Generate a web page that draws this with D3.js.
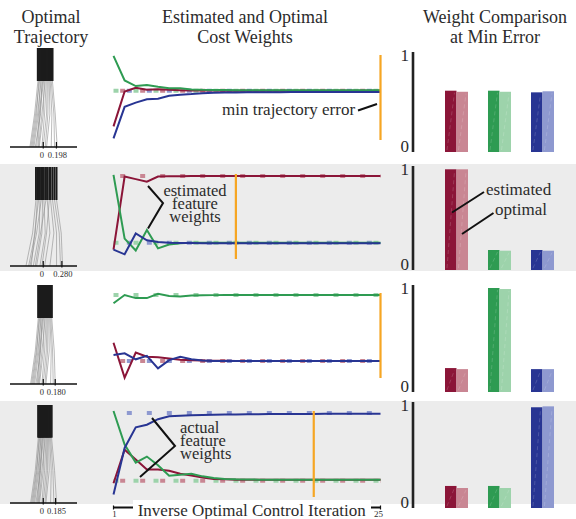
<!DOCTYPE html>
<html>
<head>
<meta charset="utf-8">
<script src="https://cdn.jsdelivr.net/npm/d3@7"></script>
<style>
  body { margin: 0; background: #fff; }
  svg { display: block; }
  text { font-family: "Liberation Serif", "Times New Roman", serif; fill: #2b2b2b; }
</style>
</head>
<body>
<svg id="chart" width="576" height="519"></svg>
<script>
// ---- data ----
var features = ["red", "green", "blue"];
var iterations = d3.range(1, 26);

// estimated weights per IOC iteration (rows 1..4)
var est1Red   = [0.16,0.57,0.615,0.59,0.596,0.59,0.585,0.583,0.582,0.581,0.58,0.58,0.58,0.58,0.58,0.58,0.58,0.58,0.58,0.58,0.58,0.58,0.58,0.58,0.58];
var est1Green = [0.99,0.70,0.635,0.647,0.627,0.61,0.61,0.595,0.59,0.588,0.587,0.586,0.586,0.585,0.585,0.585,0.585,0.585,0.585,0.585,0.585,0.585,0.585,0.585,0.585];
var est1Blue  = [0.02,0.39,0.44,0.48,0.486,0.52,0.533,0.54,0.55,0.555,0.558,0.56,0.561,0.562,0.563,0.563,0.564,0.564,0.564,0.565,0.565,0.565,0.565,0.565,0.565];

var est2Red   = [0.11,0.97,0.94,0.91,0.97,0.975,0.975,0.976,0.976,0.976,0.976,0.976,0.976,0.976,0.976,0.976,0.976,0.976,0.976,0.976,0.976,0.976,0.976,0.976,0.976];
var est2Green = [0.99,0.24,0.10,0.34,0.125,0.17,0.185,0.19,0.19,0.19,0.19,0.19,0.19,0.19,0.19,0.19,0.19,0.19,0.19,0.19,0.19,0.19,0.19,0.19,0.19];
var est2Blue  = [0.11,0.055,0.30,0.22,0.20,0.19,0.188,0.187,0.186,0.186,0.185,0.185,0.185,0.185,0.185,0.185,0.185,0.185,0.185,0.185,0.185,0.185,0.185,0.185,0.185];

var est3Red   = [0.415,0.005,0.30,0.25,0.243,0.23,0.215,0.21,0.205,0.203,0.202,0.201,0.2,0.2,0.2,0.2,0.2,0.2,0.2,0.2,0.2,0.2,0.2,0.2,0.2];
var est3Green = [0.88,0.976,0.94,0.94,0.99,0.965,0.96,0.97,0.974,0.975,0.976,0.976,0.976,0.976,0.976,0.976,0.976,0.976,0.976,0.976,0.976,0.976,0.976,0.976,0.976];
var est3Blue  = [0.27,0.29,0.22,0.26,0.114,0.21,0.25,0.22,0.205,0.2,0.2,0.2,0.2,0.2,0.2,0.2,0.2,0.2,0.2,0.2,0.2,0.2,0.2,0.2,0.2];

var est4Red   = [0.16,0.55,0.435,0.32,0.32,0.306,0.27,0.25,0.227,0.21,0.205,0.202,0.2,0.2,0.2,0.2,0.2,0.2,0.2,0.2,0.2,0.2,0.2,0.2,0.2];
var est4Green = [1.0,0.61,0.40,0.47,0.37,0.247,0.26,0.27,0.24,0.22,0.21,0.205,0.203,0.202,0.2,0.2,0.2,0.2,0.2,0.2,0.2,0.2,0.2,0.2,0.2];
var est4Blue  = [0.03,0.57,0.81,0.84,0.905,0.94,0.945,0.95,0.953,0.956,0.958,0.96,0.962,0.963,0.964,0.965,0.965,0.966,0.966,0.967,0.967,0.967,0.968,0.968,0.968];

// optimal (actual) weights, red/green/blue
var opt1 = [0.578, 0.578, 0.578];
var opt2 = [0.976, 0.19, 0.19];
var opt3 = [0.2, 0.976, 0.2];
var opt4 = [0.19, 0.19, 0.976];

// iteration of min trajectory error
var minIter = [25, 12, 25, 19];

// weight comparison bars at min error
var bar1Est = [0.632, 0.632, 0.615], bar1Opt = [0.621, 0.621, 0.626];
var bar2Est = [0.997, 0.198, 0.198], bar2Opt = [0.997, 0.191, 0.191];
var bar3Est = [0.23, 1.0, 0.22],     bar3Opt = [0.22, 0.99, 0.22];
var bar4Est = [0.214, 0.214, 0.978], bar4Opt = [0.194, 0.194, 0.987];

// optimal trajectories: lateral position at start, mid and end
var traj1Top = [-0.08,-0.068,-0.056,-0.044,-0.032,-0.02,-0.008,0.004,0.016,0.03,0.045,0.06,0.075,0.09,0.105,0.12,0.138];
var traj1Mid = [-0.13,-0.1,-0.115,-0.07,-0.085,-0.04,-0.06,-0.05,0.0,-0.02,0.02,0.05,0.07,0.1,0.13,0.16,0.18];
var traj1End = [-0.2,-0.17,-0.185,-0.14,-0.155,-0.12,-0.1,-0.08,-0.06,-0.07,-0.02,0.0,0.03,0.05,0.12,0.17,0.21];

var traj2Top = [-0.11,-0.09,-0.07,-0.05,-0.03,-0.01,0.01,0.04,0.06,0.09,0.11,0.14,0.17,0.2];
var traj2Mid = [-0.16,-0.12,-0.13,-0.06,-0.1,-0.02,0.03,-0.04,0.1,0.05,0.16,0.2,0.24,0.27];
var traj2End = [-0.26,-0.22,-0.18,-0.15,-0.2,-0.1,-0.05,-0.12,0.02,-0.02,0.1,0.2,0.26,0.29];

var traj3Top = [-0.075,-0.064,-0.053,-0.042,-0.031,-0.02,-0.008,0.004,0.016,0.03,0.044,0.058,0.072,0.086,0.1,0.114,0.128];
var traj3Mid = [-0.12,-0.095,-0.105,-0.065,-0.08,-0.04,-0.055,-0.045,0.0,-0.02,0.02,0.045,0.065,0.09,0.12,0.14,0.165];
var traj3End = [-0.19,-0.16,-0.175,-0.13,-0.145,-0.11,-0.09,-0.075,-0.055,-0.065,-0.02,0.0,0.025,0.04,0.11,0.15,0.18];

var traj4Top = [-0.075,-0.064,-0.053,-0.042,-0.031,-0.02,-0.008,0.004,0.016,0.03,0.043,0.056,0.069,0.082,0.096,0.11,0.125];
var traj4Mid = [-0.12,-0.095,-0.105,-0.065,-0.08,-0.04,-0.055,-0.045,0.0,-0.02,0.02,0.045,0.065,0.09,0.12,0.145,0.17];
var traj4End = [-0.19,-0.16,-0.175,-0.13,-0.145,-0.11,-0.09,-0.075,-0.055,-0.065,-0.02,0.0,0.025,0.04,0.11,0.16,0.2];

var trajTicks = ["0.198", "0.280", "0.180", "0.185"];

// ---- styles ----
var dark  = { red: "#8b1538", green: "#2e9b52", blue: "#283593" };
var light = { red: "#c98693", green: "#9dd3ab", blue: "#8e99d0" };
var dashShift = { green: 0, red: 6.67, blue: 13.33 };
var orange = "#f6a623";

// row layout
var rows = [
  { est: [est1Red, est1Green, est1Blue], opt: opt1, barEst: bar1Est, barOpt: bar1Opt,
    traj: [traj1Top, traj1Mid, traj1End], line: [140, 55], bar: [152, 55], tr: [48, 147], shade: null },
  { est: [est2Red, est2Green, est2Blue], opt: opt2, barEst: bar2Est, barOpt: bar2Opt,
    traj: [traj2Top, traj2Mid, traj2End], line: [259, 174], bar: [270, 169], tr: [167, 266], shade: [164, 271] },
  { est: [est3Red, est3Green, est3Blue], opt: opt3, barEst: bar3Est, barOpt: bar3Opt,
    traj: [traj3Top, traj3Mid, traj3End], line: [378, 293], bar: [392, 288], tr: [285, 384], shade: null },
  { est: [est4Red, est4Green, est4Blue], opt: opt4, barEst: bar4Est, barOpt: bar4Opt,
    traj: [traj4Top, traj4Mid, traj4End], line: [497, 411], bar: [508, 405], tr: [405, 503], shade: [401, 504] }
];

var svg = d3.select("#chart");

var x = d3.scaleLinear().domain([1, 25]).range([113.5, 380.5]);
var tx = d3.scaleLinear().domain([0, 1]).range([43.25, 109.75]);
var fx = d3.scaleBand().domain(features).range([423.5, 575.5]).paddingInner(0.465).paddingOuter(0.5);
var sub = d3.scaleBand().domain(["est", "opt"]).range([0, fx.bandwidth()]);

rows.forEach(function (r, k) {
  var g = svg.append("g");

  if (r.shade) {
    g.append("rect")
      .attr("x", 0).attr("y", r.shade[0])
      .attr("width", 576).attr("height", r.shade[1] - r.shade[0])
      .attr("fill", "#ececec");
  }

  // -- trajectories --
  var ty = d3.scaleLinear().domain([0, 3]).range(r.tr);
  var tline = d3.line().x(function (d) { return tx(d[0]); }).y(function (d) { return ty(d[1]); });
  var tops = r.traj[0], mids = r.traj[1], ends = r.traj[2];

  g.selectAll(".fan").data(tops).enter().append("path")
    .attr("d", function (d, i) { return tline([[d, 1], [mids[i], 2], [ends[i], 3]]); })
    .attr("fill", "none").attr("stroke", "#8a8a8a").attr("stroke-width", 0.9).attr("stroke-opacity", 0.65);

  g.selectAll(".stem").data(tops).enter().append("path")
    .attr("d", function (d) { return tline([[d, 0], [d, 1]]); })
    .attr("fill", "none").attr("stroke", "#1c1c1c").attr("stroke-width", k == 1 ? 1.9 : 2.2);

  var ay = ty(3);
  g.append("line").attr("x1", 10).attr("x2", 77).attr("y1", ay).attr("y2", ay)
    .attr("stroke", "#111").attr("stroke-width", 1.3);
  [0, +trajTicks[k]].forEach(function (v) {
    g.append("line").attr("x1", tx(v)).attr("x2", tx(v)).attr("y1", ay - 5).attr("y2", ay + 1.5)
      .attr("stroke", "#111").attr("stroke-width", 1.2);
  });
  g.append("text").attr("x", tx(0) - 1.5).attr("y", ay + 11).attr("text-anchor", "middle")
    .attr("font-size", 8.5).text("0");
  g.append("text").attr("x", tx(+trajTicks[k]) + 1).attr("y", ay + 11).attr("text-anchor", "middle")
    .attr("font-size", 8.5).text(trajTicks[k]);

  // -- estimated vs optimal weights --
  var y = d3.scaleLinear().domain([0, 1]).range(r.line);

  ["green", "red", "blue"].forEach(function (c) {
    var v = r.opt[features.indexOf(c)];
    g.append("line")
      .attr("x1", x(1)).attr("x2", x(25)).attr("y1", y(v)).attr("y2", y(v))
      .attr("stroke", light[c]).attr("stroke-width", 4)
      .attr("stroke-dasharray", "5,15").attr("stroke-dashoffset", -dashShift[c]);
  });

  var line = d3.line().x(function (d, i) { return x(iterations[i]); }).y(function (d) { return y(d); });
  features.forEach(function (c, j) {
    g.append("path").datum(r.est[j])
      .attr("d", line).attr("fill", "none")
      .attr("stroke", dark[c]).attr("stroke-width", 2).attr("stroke-linejoin", "miter");
  });

  g.append("line")
    .attr("x1", x(minIter[k])).attr("x2", x(minIter[k]))
    .attr("y1", y(0)).attr("y2", y(1))
    .attr("stroke", orange).attr("stroke-width", 2.2);

  // -- weight comparison --
  var by = d3.scaleLinear().domain([0, 1]).range(r.bar);
  g.append("line").attr("x1", 413).attr("x2", 413).attr("y1", by(1) - 3).attr("y2", by(0))
    .attr("stroke", "#222").attr("stroke-width", 2.6);
  g.append("text").attr("x", 409).attr("y", by(1) + 6).attr("text-anchor", "end")
    .attr("font-size", 17).text("1");
  g.append("text").attr("x", 409).attr("y", by(0)).attr("text-anchor", "end")
    .attr("font-size", 17).text("0");

  var bars = [];
  features.forEach(function (c, j) {
    bars.push({ f: c, kind: "est", v: r.barEst[j], col: dark[c] });
    bars.push({ f: c, kind: "opt", v: r.barOpt[j], col: light[c] });
  });
  g.selectAll(".bar").data(bars).enter().append("rect")
    .attr("x", function (d) { return fx(d.f) + sub(d.kind); })
    .attr("y", function (d) { return by(d.v); })
    .attr("width", sub.bandwidth())
    .attr("height", function (d) { return by(0) - by(d.v); })
    .attr("fill", function (d) { return d.col; });
  // faint streak on each bar
  g.selectAll(".streak").data(bars).enter().append("line")
    .attr("x1", function (d) { return fx(d.f) + sub(d.kind) + 2; })
    .attr("x2", function (d) { return fx(d.f) + sub(d.kind) + sub.bandwidth() - 2; })
    .attr("y1", function () { return by(0) - 2; })
    .attr("y2", function (d) { return by(d.v) + 2; })
    .attr("stroke", "#fff").attr("stroke-opacity", 0.2).attr("stroke-width", 0.8)
    .attr("stroke-dasharray", "4,3");
});

// ---- titles ----
function title(cx, lines) {
  lines.forEach(function (t, i) {
    svg.append("text").attr("x", cx).attr("y", 23 + i * 20)
      .attr("text-anchor", "middle").attr("font-size", 18).attr("fill", "#333").text(t);
  });
}
title(51, ["Optimal", "Trajectory"]);
title(245, ["Estimated and Optimal", "Cost Weights"]);
title(495, ["Weight Comparison", "at Min Error"]);

// ---- annotations ----
function lead(pts) {
  svg.append("path").attr("d", d3.line()(pts))
    .attr("fill", "none").attr("stroke", "#111").attr("stroke-width", 2);
}
svg.append("text").attr("x", 222).attr("y", 114.5).attr("font-size", 17).text("min trajectory error");
lead([[358, 110.5], [377, 104]]);

["estimated", "feature", "weights"].forEach(function (t, i) {
  svg.append("text").attr("x", 195).attr("y", 196 + i * 12.8)
    .attr("text-anchor", "middle").attr("font-size", 16.5).text(t);
});
lead([[148, 186], [163, 203], [148, 228.5]]);

svg.append("text").attr("x", 486).attr("y", 194.5).attr("font-size", 17).text("estimated");
svg.append("text").attr("x", 495).attr("y", 215).attr("font-size", 17).text("optimal");
lead([[452, 212.5], [484, 192]]);
lead([[462, 234], [493.5, 213]]);

["actual", "feature", "weights"].forEach(function (t, i) {
  svg.append("text").attr("x", 180).attr("y", 433 + i * 13.2)
    .attr("font-size", 16.5).text(t);
});
lead([[152, 418], [175, 446], [140, 477]]);

// ---- iteration axis ----
svg.append("line").attr("x1", x(1)).attr("x2", x(25)).attr("y1", 507.5).attr("y2", 507.5)
  .attr("stroke", "#111").attr("stroke-width", 1.8);
svg.append("line").attr("x1", x(1)).attr("x2", x(1)).attr("y1", 505.5).attr("y2", 509.5)
  .attr("stroke", "#111").attr("stroke-width", 1.2);
svg.append("line").attr("x1", x(25)).attr("x2", x(25)).attr("y1", 505.5).attr("y2", 509.5)
  .attr("stroke", "#111").attr("stroke-width", 1.2);
svg.append("rect").attr("x", 133).attr("y", 500).attr("width", 238).attr("height", 19).attr("fill", "#fff");
svg.append("text").attr("x", 251.7).attr("y", 516).attr("text-anchor", "middle")
  .attr("font-size", 17).attr("fill", "#222").text("Inverse Optimal Control Iteration");
svg.append("text").attr("x", x(1) + 1).attr("y", 517).attr("text-anchor", "middle")
  .attr("font-size", 9).text("1");
svg.append("text").attr("x", x(25) - 2).attr("y", 517).attr("text-anchor", "middle")
  .attr("font-size", 9).text("25");
</script>
</body>
</html>
